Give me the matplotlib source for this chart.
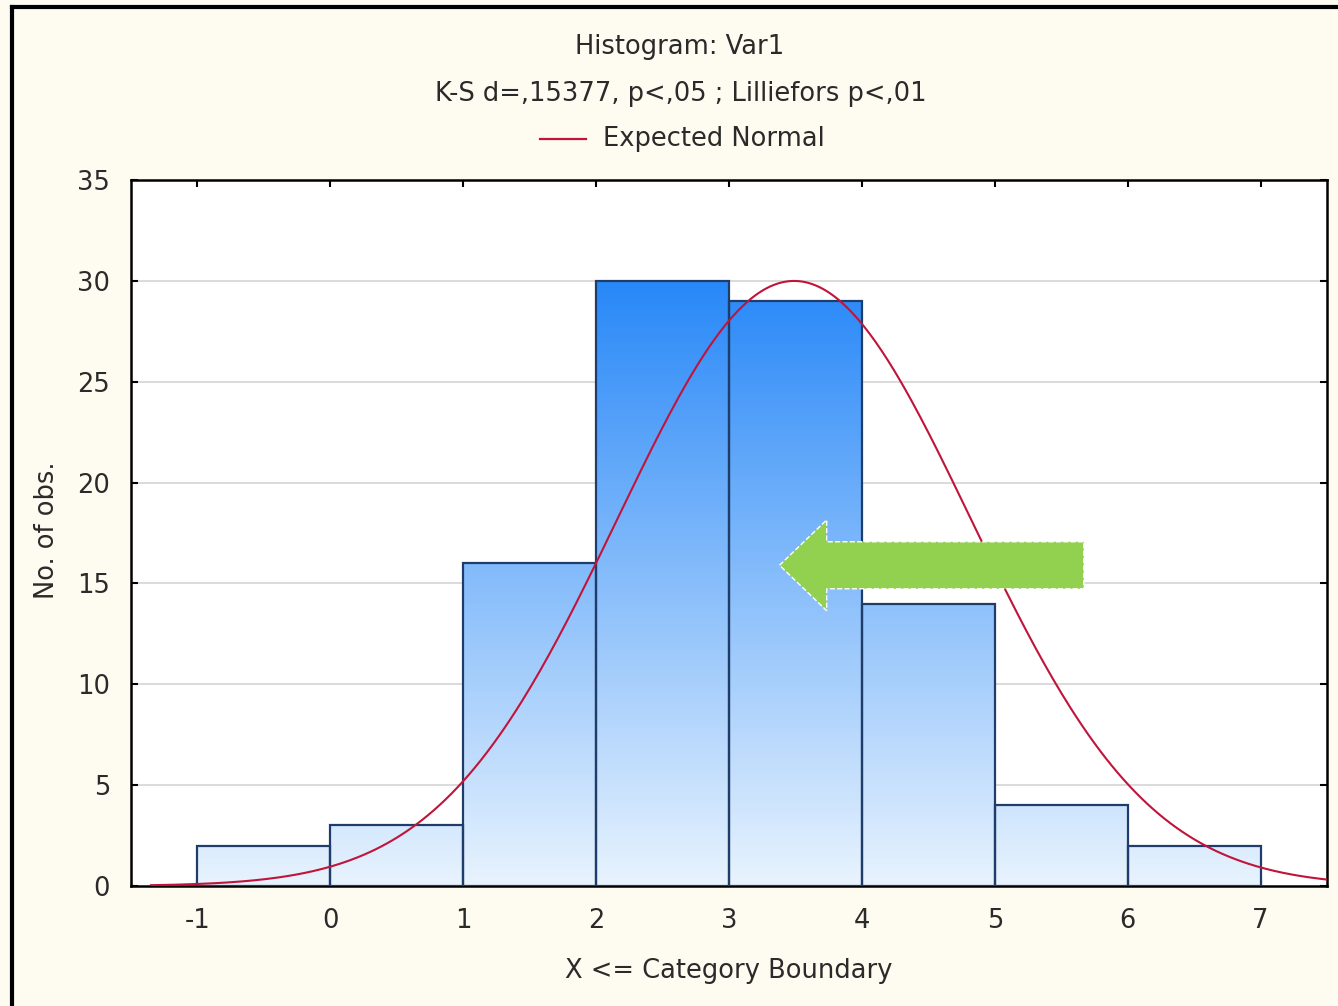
import matplotlib

matplotlib.use("Agg")
import matplotlib.pyplot as plt
import numpy as np
from matplotlib.colors import LinearSegmentedColormap
from matplotlib.lines import Line2D
from matplotlib.patches import FancyArrow

plt.rcParams["font.family"] = ["DejaVu Sans"]

# histogram data (upper category boundaries and counts)
bin_edges = [-1, 0, 1, 2, 3, 4, 5, 6, 7]
counts = [2, 3, 16, 30, 29, 14, 4, 2]
x_ticks = [-1, 0, 1, 2, 3, 4, 5, 6, 7]
y_ticks = [0, 5, 10, 15, 20, 25, 30, 35]

# expected normal parameters
n_obs = 100
mean_est = 3.49
sd_est = 1.33
curve_start = -1.35

title_1 = "Histogram: Var1"
title_2 = "K-S d=,15377, p<,05 ; Lilliefors p<,01"
legend_label = "Expected Normal"

BG = "#fefbf0"
RED = "#c0143a"
EDGE = "#1f3d6b"
TXT = "#2a2a2a"
FS = 18.5

fig = plt.figure(figsize=(13.38, 10.06), dpi=100, facecolor=BG)
ax = fig.add_axes([131 / 1338, 120 / 1006, 1196 / 1338, 706 / 1006])
ax.set_facecolor("white")

# gradient bars: colour depends on absolute height
cmap = LinearSegmentedColormap.from_list("bars", ["#e8f3fe", "#2888f8"])
for left, right, h in zip(bin_edges[:-1], bin_edges[1:], counts):
    grad = np.linspace(0, h, 200).reshape(-1, 1)
    ax.imshow(grad, cmap=cmap, vmin=0, vmax=30, origin="lower",
              extent=[left, right, 0, h], aspect="auto", zorder=2)
ax.bar(bin_edges[:-1], counts, width=1, align="edge", fill=False,
       edgecolor=EDGE, linewidth=1.6, zorder=3)

# expected normal curve
xs = np.linspace(curve_start, 7.5, 400)
binw = bin_edges[1] - bin_edges[0]
ys = n_obs * binw / (sd_est * np.sqrt(2 * np.pi)) * np.exp(-0.5 * ((xs - mean_est) / sd_est) ** 2)
ax.plot(xs, ys, color=RED, linewidth=1.5, zorder=4)

# green annotation arrow
arrow = FancyArrow(5.67, 15.9, -2.29, 0, width=2.33, head_width=4.5,
                   head_length=0.355, length_includes_head=True,
                   facecolor="#92d050", edgecolor="white", linestyle="--",
                   linewidth=1.0, zorder=5)
ax.add_patch(arrow)

ax.set_xlim(-1.5, 7.5)
ax.set_ylim(0, 35)
ax.set_xticks(x_ticks)
ax.set_yticks(y_ticks)
ax.set_xticklabels([str(t) for t in x_ticks], fontsize=FS, color=TXT)
ax.set_yticklabels([str(t) for t in y_ticks], fontsize=FS, color=TXT)
ax.tick_params(direction="in", length=5, width=1.5, top=True, right=True)
ax.tick_params(axis="x", pad=16)
ax.tick_params(axis="y", pad=15)
for y in y_ticks[1:-1]:
    ax.axhline(y, color="#d4d4d4", linewidth=1.2, zorder=1)
for sp in ax.spines.values():
    sp.set_linewidth(1.8)
    sp.set_color("black")

ax.set_xlabel("X <= Category Boundary", fontsize=FS, color=TXT, labelpad=17)
fig.text(47 / 1338, 1 - 530 / 1006, "No. of obs.", rotation=90, fontsize=FS,
         ha="center", va="center", color=TXT)

# titles and legend
fig.text(680 / 1338, 1 - 47 / 1006, title_1, fontsize=FS, ha="center",
         va="center", color=TXT)
fig.text(681 / 1338, 1 - 94 / 1006, title_2, fontsize=FS, ha="center",
         va="center", color=TXT)
fig.add_artist(Line2D([540 / 1338, 586 / 1338], [1 - 139 / 1006] * 2,
                      color=RED, linewidth=1.6))
fig.text(603 / 1338, 1 - 139 / 1006, legend_label, fontsize=FS, ha="left",
         va="center", color=TXT)

# outer frame (left and top edges visible)
fig.add_artist(Line2D([12 / 1338, 12 / 1338], [0, 1 - 7 / 1006],
                      color="black", linewidth=3))
fig.add_artist(Line2D([12 / 1338, 1], [1 - 7 / 1006] * 2,
                      color="black", linewidth=3))

fig.savefig("out.png", dpi=100, facecolor=BG)
plt.close(fig)
